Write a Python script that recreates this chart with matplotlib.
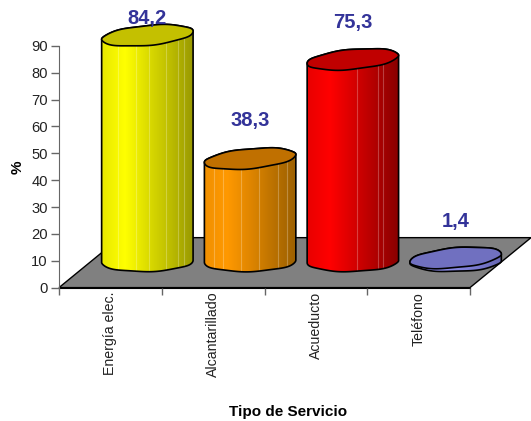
#!/usr/bin/env python3
'''Cylinder chart of service coverage, drawn with a fake 3D floor.'''
import numpy as np
import matplotlib
matplotlib.use('Agg')
import matplotlib.pyplot as plt
from matplotlib.colors import LinearSegmentedColormap
from matplotlib.patches import Polygon

plt.rcParams['font.family'] = ['Liberation Sans', 'DejaVu Sans']

categories = ['Energía elec.', 'Alcantarillado', 'Acueducto', 'Teléfono']
values = [84.2, 38.3, 75.3, 1.4]
value_labels = ['84,2', '38,3', '75,3', '1,4']
yticks = [0, 10, 20, 30, 40, 50, 60, 70, 80, 90]

side_colors = [
    ['#e8e800', '#ffff00', '#dcdc00', '#bcbc00', '#989800'],
    ['#f09000', '#ff9900', '#e08600', '#bc7200', '#9c6000'],
    ['#e80000', '#ff0000', '#d80000', '#b00000', '#880000'],
    ['#8888ee', '#9999ff', '#8888e0', '#7777cc', '#6666b0'],
]
top_colors = ['#c4c000', '#c07000', '#c00000', '#7070c0']
# x positions (0-1 across the cylinder) of the pale facet lines
streaks = [[0.18, 0.38, 0.52, 0.7, 0.83, 0.9],
           [0.1, 0.2, 0.4, 0.6, 0.8, 0.9],
           [0.55, 0.78, 0.83],
           []]
label_shift = [17, 38, 37, 36]  # px above the top face

W, H = 531, 421
fig = plt.figure(figsize=(W / 100, H / 100), dpi=100)
ax = fig.add_axes([59 / W, 1 - 287.6 / H, 411 / W, 241.7 / H])
ax.patch.set_visible(False)

DX, DY = 0.594, 18.6     # floor depth
CX, CY = 0.36, 9.7       # cylinder centre offset from the front edge
RX, RY = 0.445, 3.7      # ellipse radii
TILT_TOP, TILT_BASE = 1.5, 0.4


def ellipse(xc, yc, phase, tilt, start=0.0, stop=2 * np.pi):
    t = np.linspace(start, stop, 120)
    x = xc + RX * np.cos(t)
    y = yc + RY * np.sin(t) + tilt * np.cos(t) + 0.13 * np.sin(6 * t + phase)
    return np.column_stack([x, y])


# floor
floor = Polygon([(0, 0), (4, 0), (4 + DX, DY), (DX, DY)], closed=True,
                facecolor='#808080', edgecolor='black', lw=1.0,
                clip_on=False, zorder=1)
ax.add_patch(floor)

for i, val in enumerate(values):
    xc = i + 0.5 + CX
    y0 = CY
    y1 = CY + val
    phase = 0.7 + i * 1.3
    lower = ellipse(xc, y0, phase, TILT_BASE, np.pi, 2 * np.pi)
    upper = ellipse(xc, y1, phase, TILT_TOP)
    outline = np.vstack([lower, upper[:60]])
    z = 2 + i * 0.1

    cmap = LinearSegmentedColormap.from_list('side', side_colors[i])
    grad = np.linspace(0, 1, 256).reshape(1, -1)
    im = ax.imshow(grad, cmap=cmap, aspect='auto', zorder=z,
                   extent=[xc - RX, xc + RX, y0 - RY * 2, y1 + RY * 2])
    side = Polygon(outline, closed=True, facecolor='none', edgecolor='black',
                   lw=1.2, zorder=z + 0.02, clip_on=False)
    ax.add_patch(side)
    im.set_clip_box(fig.bbox)
    im.set_clip_path(side)
    for s in streaks[i]:
        line, = ax.plot([xc - RX + 2 * RX * s] * 2, [y0 - RY, y1], color='white',
                        alpha=0.25, lw=0.8, zorder=z + 0.01)
        line.set_clip_box(fig.bbox)
        line.set_clip_path(side)
    ax.add_patch(Polygon(upper, closed=True, facecolor=top_colors[i],
                         edgecolor='black', lw=1.2, zorder=z + 0.03,
                         clip_on=False))
    ax.annotate(value_labels[i], (xc, y1), xytext=(0, label_shift[i] * 0.72),
                textcoords='offset points', ha='center', va='center',
                color='#333399', fontsize=14.5, fontweight='bold',
                annotation_clip=False, zorder=5)

ax.set_xlim(0, 4)
ax.set_ylim(0, 90)
for name in ('top', 'right'):
    ax.spines[name].set_visible(False)
ax.spines['left'].set_color('#666666')
ax.spines['bottom'].set_color('black')
ax.spines['bottom'].set_zorder(1.5)

ax.set_yticks(yticks)
ax.tick_params(axis='y', direction='out', length=6, width=1, color='#666666',
               labelsize=10.6, pad=2, labelcolor='#222222')
ax.set_xticks(np.arange(5))
ax.set_xticklabels([])
ax.tick_params(axis='x', which='major', direction='out', length=5, width=1,
               color='#666666')
ax.set_xticks(np.arange(4) + 0.5, minor=True)
ax.set_xticklabels(categories, minor=True, rotation=90, fontsize=10.2,
                   va='top', ha='center')
ax.tick_params(axis='x', which='minor', length=0, pad=3, labelcolor='#222222')

fig.text(18 / W, 1 - 167 / H, '%', rotation=90, fontsize=11, fontweight='bold',
         ha='center', va='center')
fig.text(288 / W, 1 - 412 / H, 'Tipo de Servicio', fontsize=11,
         fontweight='bold', ha='center', va='center')

fig.savefig('out.png', dpi=100)
